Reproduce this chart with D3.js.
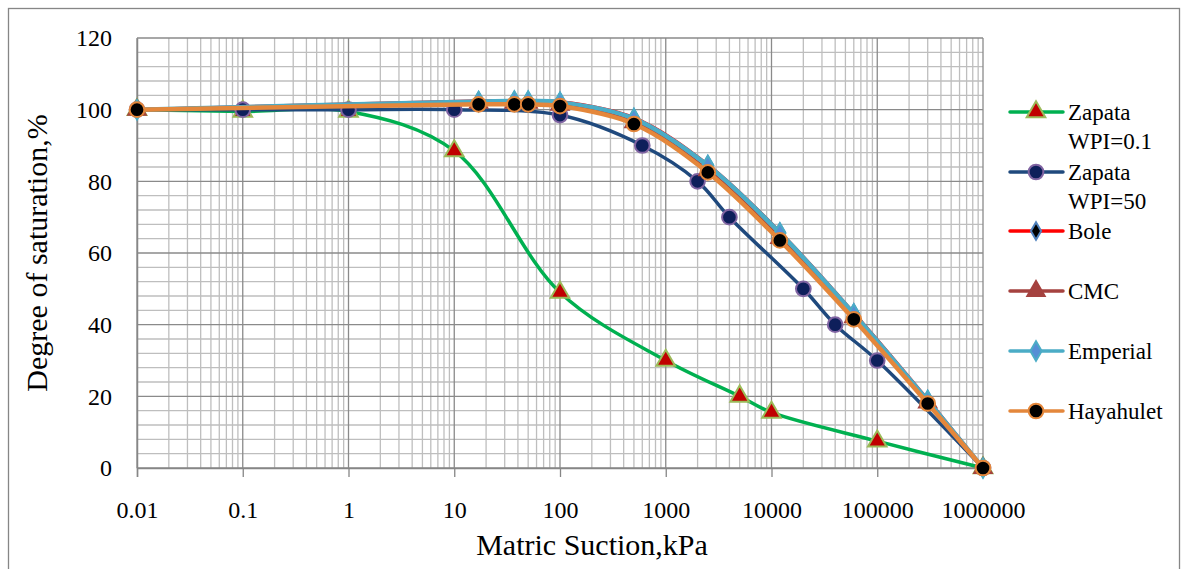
<!DOCTYPE html>
<html>
<head>
<meta charset="utf-8">
<script src="https://cdn.jsdelivr.net/npm/d3@7"></script>
<style>
  body { margin: 0; background: #fff; }
  text { font-family: "Liberation Serif", "Times New Roman", serif; fill: #000; }
</style>
</head>
<body>
<div id="chart"></div>
<script>
// ---- data ----
var zap01X = [0.01, 0.1, 1, 10, 100, 1000, 5000, 10000, 100000, 1000000];
var zap01Y = [100, 99.5, 99.5, 88.5, 49, 30, 20, 15.5, 7.5, 0];

var zap50X = [0.01, 0.1, 1, 10, 100, 600, 2000, 4000, 20000, 40000, 100000, 1000000];
var zap50Y = [100, 100, 100, 100, 98.5, 90, 80, 70, 50, 40, 30, 0];

// the four soils share the same suction steps
var soilX = [0.01, 17, 37, 50, 100, 500, 2500, 12000, 60000, 300000, 1000000];
var boleY = [100, 102.4, 102.5, 102.5, 102.2, 97.7, 84.6, 65.8, 43.2, 19, 0];
var cmcY  = [100, 101.9, 101.9, 101.9, 101.4, 96.5, 83.1, 64.2, 42.1, 18.3, 0];
var empY  = [100, 102.3, 102.4, 102.4, 102.1, 97.5, 84.4, 65.6, 43, 18.8, 0];
var hayY  = [100, 101.5, 101.5, 101.5, 101, 96, 82.5, 63.5, 41.5, 18, 0];

var xTicks = [0.01, 0.1, 1, 10, 100, 1000, 10000, 100000, 1000000];
var xTickLabels = ["0.01", "0.1", "1", "10", "100", "1000", "10000", "100000", "1000000"];
var yTicks = [0, 20, 40, 60, 80, 100, 120];

var FONT = '"Liberation Serif", "Times New Roman", serif';

var series = [
  {name: ["Zapata", "WPI=0.1"], x: zap01X, y: zap01Y, line: "#00B050", lw: 3.5,
   sym: d3.symbolTriangle, size: 150, fill: "#C00000", stroke: "#9BBB59"},
  {name: ["Zapata", "WPI=50"], x: zap50X, y: zap50Y, line: "#1F497D", lw: 3.5,
   sym: d3.symbolCircle, size: 170, fill: "#0E1F5B", stroke: "#8064A2"},
  {name: ["Bole"], x: soilX, y: boleY, line: "#FF0000", lw: 3.5,
   sym: d3.symbolDiamond, size: 90, fill: "#000000", stroke: "#4F81BD"},
  {name: ["CMC"], x: soilX, y: cmcY, line: "#A5423F", lw: 3.5,
   sym: d3.symbolTriangle, size: 130, fill: "#A5423F", stroke: "#A5423F"},
  {name: ["Emperial"], x: soilX, y: empY, line: "#4BACC6", lw: 4.5,
   sym: d3.symbolDiamond, size: 110, fill: "#558ED5", stroke: "#4BACC6"},
  {name: ["Hayahulet"], x: soilX, y: hayY, line: "#E4873B", lw: 4.5,
   sym: d3.symbolCircle, size: 170, fill: "#000000", stroke: "#E4873B"}
];

// ---- layout ----
var W = 1188, H = 569;
var plot = {left: 137, right: 983, top: 38, bottom: 468};

var svg = d3.select("#chart").append("svg")
    .attr("width", W)
    .attr("height", H);

// outer chart frame
svg.append("rect")
    .attr("x", 8.5).attr("y", 8.5)
    .attr("width", 1171).attr("height", 600)
    .attr("fill", "none")
    .attr("stroke", "#868686")
    .attr("stroke-width", 1.3);

var x = d3.scaleLog().domain([0.01, 1000000]).range([plot.left, plot.right]);
var y = d3.scaleLinear().domain([0, 120]).range([plot.bottom, plot.top]);

// grid: minor first, then major
var grid = svg.append("g");
var minorX = [];
xTicks.slice(0, -1).forEach(function(d) {
    for (let k = 2; k <= 9; k++) minorX.push(d * k);
});
grid.selectAll("line.mx").data(minorX).enter().append("line")
    .attr("x1", (d) => x(d)).attr("x2", (d) => x(d))
    .attr("y1", plot.top).attr("y2", plot.bottom)
    .attr("stroke", "#BEBEBE").attr("stroke-width", 1.3);

var minorY = d3.range(0, 121, 4).filter((d) => d % 20 !== 0);
grid.selectAll("line.my").data(minorY).enter().append("line")
    .attr("x1", plot.left).attr("x2", plot.right)
    .attr("y1", (d) => y(d)).attr("y2", (d) => y(d))
    .attr("stroke", "#BEBEBE").attr("stroke-width", 1.3);

grid.selectAll("line.Mx").data(xTicks).enter().append("line")
    .attr("x1", (d) => x(d)).attr("x2", (d) => x(d))
    .attr("y1", plot.top).attr("y2", plot.bottom)
    .attr("stroke", "#8A8A8A").attr("stroke-width", 1.3);

grid.selectAll("line.My").data(yTicks).enter().append("line")
    .attr("x1", plot.left).attr("x2", plot.right)
    .attr("y1", (d) => y(d)).attr("y2", (d) => y(d))
    .attr("stroke", "#8A8A8A").attr("stroke-width", 1.3);

// axes
var xAxis = d3.axisBottom(x)
    .tickValues(xTicks)
    .tickFormat((d, i) => xTickLabels[i])
    .tickSize(9)
    .tickPadding(24);
var gx = svg.append("g")
    .attr("transform", "translate(0," + plot.bottom + ")")
    .call(xAxis);
gx.select(".domain").attr("stroke", "#868686").attr("stroke-width", 1.5);
gx.selectAll(".tick line").attr("stroke", "#868686").attr("stroke-width", 1.3);
gx.selectAll(".tick text")
    .attr("font-family", FONT).style("font-family", FONT)
    .style("font-size", "24px").attr("fill", "#000");

var yAxis = d3.axisLeft(y)
    .tickValues(yTicks)
    .tickSize(0)
    .tickPadding(25);
var gy = svg.append("g")
    .attr("transform", "translate(" + plot.left + ",0)")
    .call(yAxis);
gy.select(".domain").attr("stroke", "#868686").attr("stroke-width", 1.5);
gy.selectAll(".tick text")
    .attr("font-family", FONT).style("font-family", FONT)
    .style("font-size", "24px").attr("fill", "#000");

// axis titles
svg.append("text")
    .attr("x", 592).attr("y", 555)
    .attr("text-anchor", "middle")
    .style("font-size", "30px")
    .text("Matric Suction,kPa");

svg.append("text")
    .attr("transform", "translate(36,253) rotate(-90)")
    .attr("text-anchor", "middle")
    .attr("dy", "0.35em")
    .style("font-size", "30px")
    .text("Degree of saturation,%");

// series lines (smoothed like the spreadsheet curves)
var line = d3.line()
    .x((d) => x(d[0]))
    .y((d) => y(d[1]))
    .curve(d3.curveCatmullRom.alpha(0.5));

var layers = svg.append("g");
series.forEach(function(s) {
    let pts = s.x.map((v, i) => [v, s.y[i]]);
    let g = layers.append("g");
    g.append("path")
        .datum(pts)
        .attr("d", line)
        .attr("fill", "none")
        .attr("stroke", s.line)
        .attr("stroke-width", s.lw)
        .attr("stroke-linejoin", "round");
    g.selectAll("path.mk").data(pts).enter().append("path")
        .attr("transform", (d) => "translate(" + x(d[0]) + "," + y(d[1]) + ")")
        .attr("d", d3.symbol().type(s.sym).size(s.size))
        .attr("fill", s.fill)
        .attr("stroke", s.stroke)
        .attr("stroke-width", 2);
});

// legend
var legY = [112, 172, 231, 291, 351, 411];
var leg = svg.append("g");
series.forEach(function(s, i) {
    let cy = legY[i];
    leg.append("line")
        .attr("x1", 1010).attr("x2", 1063)
        .attr("y1", cy).attr("y2", cy)
        .attr("stroke", s.line).attr("stroke-width", 3.5)
        .attr("stroke-linecap", "round");
    leg.append("path")
        .attr("transform", "translate(1036," + cy + ")")
        .attr("d", d3.symbol().type(s.sym).size(s.size))
        .attr("fill", s.fill)
        .attr("stroke", s.stroke)
        .attr("stroke-width", 2);
    s.name.forEach(function(t, j) {
        leg.append("text")
            .attr("x", 1068).attr("y", cy + j * 29)
            .attr("dy", "0.35em")
            .style("font-size", "23px")
            .text(t);
    });
});
</script>
</body>
</html>
